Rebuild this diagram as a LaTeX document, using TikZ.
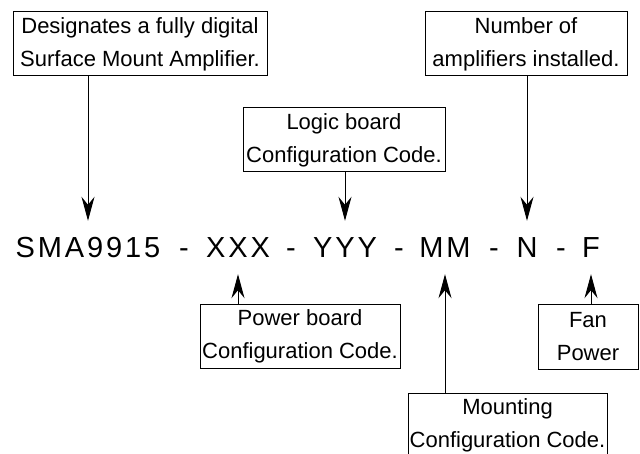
\documentclass[tikz,border=0pt]{standalone}
\usepackage{fontspec}
\setmainfont{Liberation Sans}
\usepackage{tikz}
\usetikzlibrary{
  arrows.meta,
  positioning
}
\newcommand{\boxfont}{\fontsize{22}{33}\selectfont}
\newcommand{\codefont}{\fontsize{29}{35}\selectfont\addfontfeature{LetterSpace=10}}

\begin{document}
\begin{tikzpicture}[
  x=1pt, y=-1pt,
  note/.style={draw, line width=1pt, align=center, inner sep=0pt, minimum height=64pt, font=\boxfont},
  part/.style={anchor=base, inner xsep=0pt, inner ysep=16pt, text height=21pt, text depth=0pt, font=\codefont},
  arr/.style={line width=1pt, -{Stealth[length=24pt, width=13pt, inset=8pt]}},
]
  \useasboundingbox (0,0) rectangle (640,454);

  % Part number
  \node[part] (sma) at (88,258) {SMA9915};
  \node[part] (d1) at (184,258) {-};
  \node[part] (xxx) at (238,258) {XXX};
  \node[part] (d2) at (291,258) {-};
  \node[part] (yyy) at (345,258) {YYY};
  \node[part] (d3) at (399,258) {-};
  \node[part] (mm) at (445,258) {MM};
  \node[part] (d4) at (494,258) {-};
  \node[part] (nn) at (527,258) {N};
  \node[part] (d5) at (561,258) {-};
  \node[part] (ff) at (591,258) {F};

  % Boxes above
  \node[note, minimum width=254pt] (desig) at (140,44) {Designates a fully digital\\Surface Mount Amplifier.};
  \node[note, minimum width=202pt] (logic) at (344,140) {Logic board\\Configuration Code.};
  \node[note, minimum width=202pt] (count) at (526,44) {Number of\\amplifiers installed.};

  % Boxes below
  \node[note, minimum width=200pt] (power) at (300,336.5) {Power board\\Configuration Code.};
  \node[note, minimum width=100pt] (fan) at (588,337) {Fan\\Power};
  \node[note, minimum width=199pt] (mount) at (507.5,425) {Mounting\\Configuration Code.};

  % Arrows
  \draw[arr] (sma.north |- desig.south) -- (sma.north);
  \draw[arr] (yyy.north |- logic.south) -- (yyy.north);
  \draw[arr] (nn.north |- count.south) -- (nn.north);
  \draw[arr] (xxx.south |- power.north) -- (xxx.south);
  \draw[arr] (mm.south |- mount.north) -- (mm.south);
  \draw[arr] (ff.south |- fan.north) -- (ff.south);
\end{tikzpicture}
\end{document}
